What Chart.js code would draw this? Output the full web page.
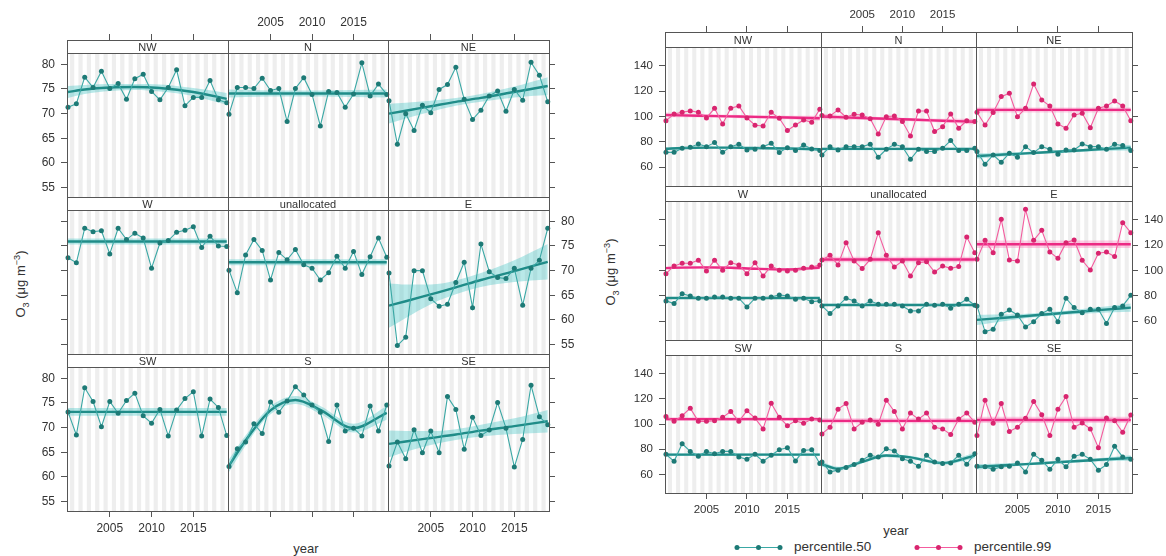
<!DOCTYPE html>
<html>
<head>
<meta charset="utf-8">
<title>O3 trends by wind sector</title>
<script src="https://cdn.jsdelivr.net/npm/chart.js@4.4.1/dist/chart.umd.min.js"></script>
<style>
  body { margin: 0; background: #fff; }
  #page { position: relative; width: 1166px; height: 556px; overflow: hidden;
          font-family: 'Liberation Sans', Arial, Helvetica, sans-serif; color: #333; }
  #page canvas { position: absolute; }
  .lbl { position: absolute; white-space: nowrap; line-height: 16px; }
  .ytitle { font-size: 13px; transform: translate(-50%, -50%) rotate(-90deg); }
  .ytitle sub, .ytitle sup { font-size: 70%; line-height: 0; }
  .xtitle { font-size: 13px; transform: translate(-50%, -50%); }
  .key { position: absolute; }
  .keytext { font-size: 13.5px; }
</style>
</head>
<body>
<div id="page">
  <div class="lbl ytitle" style="left:21px; top:284px">O<sub>3</sub> (μg m<sup>−3</sup>)</div>
  <div class="lbl xtitle" style="left:306px; top:549px">year</div>
  <div class="lbl ytitle" style="left:611px; top:272px">O<sub>3</sub> (μg m<sup>−3</sup>)</div>
  <div class="lbl xtitle" style="left:896px; top:531px">year</div>
  <svg class="key" style="left:733px; top:541px" width="52" height="13">
    <line x1="4" y1="6.5" x2="47" y2="6.5" stroke="#3aa8a5" stroke-width="1.2"/>
    <circle cx="4" cy="6.5" r="2.5" fill="#1d7a76"/><circle cx="25.5" cy="6.5" r="2.5" fill="#1d7a76"/><circle cx="47" cy="6.5" r="2.5" fill="#1d7a76"/>
  </svg>
  <div class="lbl keytext" style="left:794px; top:539px">percentile.50</div>
  <svg class="key" style="left:913px; top:541px" width="52" height="13">
    <line x1="4" y1="6.5" x2="47" y2="6.5" stroke="#f45c9f" stroke-width="1.2"/>
    <circle cx="4" cy="6.5" r="2.5" fill="#d9256f"/><circle cx="25.5" cy="6.5" r="2.5" fill="#d9256f"/><circle cx="47" cy="6.5" r="2.5" fill="#d9256f"/>
  </svg>
  <div class="lbl keytext" style="left:974px; top:539px">percentile.99</div>
</div>
<script>
// years and axis ticks
const YEARS = [2000, 2001, 2002, 2003, 2004, 2005, 2006, 2007, 2008, 2009,
               2010, 2011, 2012, 2013, 2014, 2015, 2016, 2017, 2018, 2019];
const FIT_YEARS = [2000, 2002, 2005, 2008, 2011, 2015, 2019];
const X_TICKS = [2005, 2010, 2015];
const MEAN_TICKS = [55, 60, 65, 70, 75, 80];
const PCT_TICKS = [60, 80, 100, 120, 140];
const SECTORS = ['NW', 'N', 'NE', 'W', 'unallocated', 'E', 'SW', 'S', 'SE'];

// annual mean O3 by sector, with smooth fit and its 95% band (at FIT_YEARS)
const mean_NW = [71.3, 72.0, 77.4, 75.3, 78.6, 75.1, 76.1, 72.9, 77.1, 78.0, 74.5, 72.8, 75.3, 78.9, 71.6, 73.3, 73.3, 76.7, 72.8, 72.2];
const mean_NW_fit = [74.4, 74.9, 75.3, 75.4, 75.2, 74.4, 73.0];
const mean_NW_lo = [73.2, 74.0, 74.6, 74.8, 74.5, 73.6, 71.8];
const mean_NW_hi = [75.6, 75.8, 76.0, 76.0, 75.9, 75.2, 74.2];

const mean_N = [69.9, 75.3, 75.3, 75.1, 77.2, 74.7, 75.1, 68.4, 75.1, 77.3, 73.9, 67.5, 74.5, 74.3, 71.3, 74.0, 80.3, 73.6, 76.0, 73.9];
const mean_N_fit = [74.1, 74.1, 74.1, 74.1, 74.1, 74.1, 74.1];
const mean_N_lo = [73.3, 73.4, 73.5, 73.5, 73.5, 73.4, 73.3];
const mean_N_hi = [74.9, 74.8, 74.7, 74.7, 74.7, 74.8, 74.9];

const mean_NE = [72.6, 63.8, 70.0, 66.6, 71.7, 70.2, 74.9, 75.9, 79.4, 72.9, 68.8, 70.7, 73.6, 74.6, 70.5, 74.9, 72.7, 80.4, 77.8, 72.4];
const mean_NE_fit = [70.0, 70.6, 71.5, 72.4, 73.2, 74.4, 75.6];
const mean_NE_lo = [68.0, 69.0, 70.4, 71.6, 72.4, 73.3, 73.8];
const mean_NE_hi = [72.0, 72.2, 72.6, 73.2, 74.0, 75.5, 77.4];

const mean_W = [72.6, 71.6, 78.6, 77.9, 78.1, 73.4, 78.6, 76.3, 77.6, 76.6, 70.5, 75.6, 76.1, 77.8, 78.2, 78.9, 74.7, 77.0, 75.0, 74.9];
const mean_W_fit = [75.9, 75.9, 75.9, 75.9, 75.9, 75.9, 75.9];
const mean_W_lo = [75.3, 75.3, 75.3, 75.3, 75.3, 75.3, 75.3];
const mean_W_hi = [76.5, 76.5, 76.5, 76.5, 76.5, 76.5, 76.5];

const mean_U = [70.1, 65.5, 73.2, 76.3, 74.1, 68.1, 73.7, 72.2, 74.3, 71.2, 70.5, 68.1, 69.6, 72.9, 70.5, 73.9, 69.2, 72.8, 76.6, 72.7];
const mean_U_fit = [71.7, 71.7, 71.7, 71.7, 71.7, 71.7, 71.7];
const mean_U_lo = [71.1, 71.1, 71.1, 71.1, 71.1, 71.1, 71.1];
const mean_U_hi = [72.3, 72.3, 72.3, 72.3, 72.3, 72.3, 72.3];

const mean_E = [69.5, 54.8, 56.5, 70.0, 70.0, 64.3, 62.8, 63.2, 67.6, 71.7, 62.5, 75.4, 69.8, 68.6, 68.4, 70.5, 63.0, 70.5, 72.1, 78.6];
const mean_E_fit = [62.9, 63.8, 65.2, 66.6, 68.1, 69.9, 71.8];
const mean_E_lo = [58.4, 60.4, 63.2, 65.2, 66.7, 67.7, 68.2];
const mean_E_hi = [67.4, 67.2, 67.2, 68.0, 69.5, 72.1, 75.4];

const mean_SW = [73.2, 68.5, 78.1, 75.3, 70.2, 75.3, 72.9, 75.5, 77.0, 72.4, 70.9, 73.7, 68.3, 73.6, 75.9, 77.3, 68.3, 75.8, 74.1, 68.4];
const mean_SW_fit = [73.2, 73.2, 73.2, 73.2, 73.2, 73.2, 73.2];
const mean_SW_lo = [72.4, 72.4, 72.4, 72.4, 72.4, 72.4, 72.4];
const mean_SW_hi = [74.0, 74.0, 74.0, 74.0, 74.0, 74.0, 74.0];

const mean_S = [62.1, 65.7, 67.1, 70.8, 68.8, 75.2, 73.1, 75.4, 78.3, 76.6, 74.6, 73.1, 67.2, 74.6, 69.3, 69.9, 68.3, 74.4, 69.3, 74.6];
const mean_S_fit = [62.3, 67.4, 73.5, 75.6, 73.6, 69.9, 73.0];
const mean_S_lo = [61.0, 66.4, 72.7, 74.8, 72.8, 69.0, 71.6];
const mean_S_hi = [63.6, 68.4, 74.3, 76.4, 74.4, 70.8, 74.4];

const mean_SE = [62.2, 67.1, 63.7, 69.6, 64.9, 69.3, 64.9, 76.3, 73.7, 65.6, 72.1, 68.4, 69.5, 75.1, 69.9, 62.0, 67.6, 78.6, 72.2, 70.6];
const mean_SE_fit = [66.7, 67.2, 67.9, 68.6, 69.4, 70.3, 71.3];
const mean_SE_lo = [64.0, 65.1, 66.5, 67.5, 68.2, 68.7, 69.0];
const mean_SE_hi = [69.4, 69.3, 69.3, 69.7, 70.6, 71.9, 73.6];

// 50th and 99th percentiles by sector
const p50_NW = [71.8, 71.8, 75.0, 75.8, 78.4, 76.3, 79.5, 71.8, 76.3, 78.2, 73.7, 74.2, 76.3, 78.9, 71.6, 75.5, 73.2, 77.6, 74.5, 73.2];
const p50_NW_fit = [74.6, 75.2, 75.5, 75.5, 75.2, 74.8, 74.2];
const p50_NW_lo = [73.6, 74.3, 74.7, 74.7, 74.4, 73.9, 73.1];
const p50_NW_hi = [75.6, 76.1, 76.3, 76.3, 76.0, 75.7, 75.3];
const p99_NW = [96.8, 102.1, 103.4, 104.5, 103.4, 99.0, 106.6, 94.2, 106.6, 108.4, 99.0, 93.2, 92.6, 103.4, 98.7, 89.0, 93.4, 97.4, 95.5, 105.8];
const p99_NW_fit = [101.3, 101.0, 100.6, 100.2, 99.8, 99.3, 98.7];
const p99_NW_lo = [99.3, 99.5, 99.4, 99.0, 98.6, 97.9, 96.7];
const p99_NW_hi = [103.3, 102.5, 101.8, 101.4, 101.0, 100.7, 100.7];

const p50_N = [69.7, 76.3, 73.7, 76.3, 76.3, 76.3, 78.2, 67.9, 74.2, 78.2, 76.3, 66.3, 74.2, 72.4, 72.4, 75.0, 81.1, 73.2, 73.2, 75.0];
const p50_N_fit = [74.5, 74.5, 74.5, 74.5, 74.5, 74.5, 74.5];
const p50_N_lo = [73.5, 73.5, 73.5, 73.5, 73.5, 73.5, 73.5];
const p50_N_hi = [75.5, 75.5, 75.5, 75.5, 75.5, 75.5, 75.5];
const p99_N = [100.8, 100.5, 105.3, 99.5, 101.8, 101.3, 98.4, 86.3, 100.0, 100.5, 96.1, 84.7, 104.5, 104.5, 88.2, 92.1, 102.1, 90.8, 96.8, 96.1];
const p99_N_fit = [100.0, 99.6, 98.9, 98.3, 97.7, 96.8, 96.0];
const p99_N_lo = [97.8, 97.8, 97.5, 97.0, 96.4, 95.3, 93.8];
const p99_N_hi = [102.2, 101.4, 100.3, 99.6, 99.0, 98.3, 98.2];

const p50_NE = [72.4, 62.4, 69.7, 64.0, 71.1, 67.9, 76.3, 71.6, 76.3, 74.2, 70.3, 73.7, 73.7, 78.4, 76.3, 76.3, 74.2, 78.2, 77.1, 73.2];
const p50_NE_fit = [68.9, 69.6, 70.6, 71.7, 72.7, 74.1, 75.5];
const p50_NE_lo = [66.7, 67.9, 69.4, 70.7, 71.7, 72.9, 73.3];
const p50_NE_hi = [71.1, 71.3, 71.8, 72.7, 73.7, 75.3, 77.7];
const p99_NE = [103.4, 93.4, 103.2, 115.8, 118.4, 100.0, 106.6, 125.8, 113.2, 108.4, 94.2, 90.8, 101.3, 102.6, 91.3, 106.6, 108.4, 112.4, 108.4, 96.8];
const p99_NE_fit = [105.3, 105.3, 105.3, 105.3, 105.3, 105.3, 105.3];
const p99_NE_lo = [103.3, 103.3, 103.3, 103.3, 103.3, 103.3, 103.3];
const p99_NE_hi = [107.3, 107.3, 107.3, 107.3, 107.3, 107.3, 107.3];

const p50_W = [76.1, 74.0, 81.8, 80.0, 78.2, 78.2, 79.2, 79.2, 78.2, 78.2, 71.3, 78.2, 78.2, 79.2, 80.8, 80.0, 77.4, 78.2, 75.5, 76.1];
const p50_W_fit = [78.4, 78.4, 78.4, 78.4, 78.4, 78.4, 78.4];
const p50_W_lo = [77.6, 77.6, 77.6, 77.6, 77.6, 77.6, 77.6];
const p50_W_hi = [79.2, 79.2, 79.2, 79.2, 79.2, 79.2, 79.2];
const p99_W = [97.6, 103.7, 105.8, 105.8, 108.2, 99.7, 108.2, 100.3, 106.3, 104.5, 97.6, 106.3, 95.8, 103.7, 100.3, 99.7, 100.3, 101.8, 102.9, 104.5];
const p99_W_fit = [102.0, 102.4, 102.6, 102.3, 101.5, 100.9, 102.5];
const p99_W_lo = [100.8, 101.4, 101.6, 101.3, 100.5, 99.9, 101.1];
const p99_W_hi = [103.2, 103.4, 103.6, 103.3, 102.5, 101.9, 103.9];

const p50_U = [72.1, 66.1, 72.1, 78.2, 76.1, 72.1, 76.1, 73.4, 73.4, 73.4, 72.1, 68.2, 68.2, 73.4, 72.6, 73.4, 70.3, 73.4, 77.4, 72.6];
const p50_U_fit = [72.9, 72.9, 72.9, 72.9, 72.9, 72.9, 72.9];
const p50_U_lo = [72.0, 72.0, 72.0, 72.0, 72.0, 72.0, 72.0];
const p50_U_hi = [73.8, 73.8, 73.8, 73.8, 73.8, 73.8, 73.8];
const p99_U = [108.4, 112.1, 104.5, 122.1, 107.6, 101.6, 108.9, 130.0, 112.1, 102.9, 107.6, 95.8, 106.3, 107.1, 98.9, 103.7, 101.8, 103.2, 126.6, 114.2];
const p99_U_fit = [108.8, 108.8, 108.8, 108.8, 108.8, 108.8, 108.8];
const p99_U_lo = [106.6, 106.6, 106.6, 106.6, 106.6, 106.6, 106.6];
const p99_U_hi = [111.0, 111.0, 111.0, 111.0, 111.0, 111.0, 111.0];

const p50_E = [72.1, 51.8, 53.7, 65.5, 68.9, 65.0, 55.5, 59.7, 66.1, 69.5, 59.7, 78.2, 70.8, 66.8, 69.5, 69.5, 58.2, 70.8, 72.1, 80.5];
const p50_E_fit = [61.1, 62.1, 63.6, 65.2, 66.7, 68.8, 70.8];
const p50_E_lo = [57.1, 58.9, 61.6, 63.7, 65.1, 66.5, 67.5];
const p50_E_hi = [65.1, 65.3, 65.6, 66.7, 68.3, 71.1, 74.1];
const p99_E = [108.9, 123.9, 114.2, 140.5, 108.4, 107.6, 148.4, 123.9, 131.8, 114.7, 109.7, 122.1, 124.2, 108.2, 100.5, 113.7, 114.7, 111.1, 137.9, 130.0];
const p99_E_fit = [120.8, 120.8, 120.8, 120.8, 120.8, 120.8, 120.8];
const p99_E_lo = [117.8, 117.8, 117.8, 117.8, 117.8, 117.8, 117.8];
const p99_E_hi = [123.8, 123.8, 123.8, 123.8, 123.8, 123.8, 123.8];

const p50_SW = [76.0, 70.4, 84.4, 78.3, 74.4, 78.3, 76.5, 78.3, 78.3, 73.9, 72.0, 76.0, 70.4, 75.2, 79.6, 81.2, 70.7, 79.1, 79.6, 68.6];
const p50_SW_fit = [75.7, 75.7, 75.7, 75.7, 75.7, 75.7, 75.7];
const p50_SW_lo = [74.7, 74.7, 74.7, 74.7, 74.7, 74.7, 74.7];
const p50_SW_hi = [76.7, 76.7, 76.7, 76.7, 76.7, 76.7, 76.7];
const p99_SW = [106.1, 102.2, 106.7, 112.7, 102.2, 102.2, 102.7, 105.4, 110.1, 102.2, 110.6, 104.8, 96.2, 116.6, 105.4, 98.8, 102.7, 100.6, 104.0, 103.3];
const p99_SW_fit = [104.0, 104.0, 104.0, 104.0, 104.0, 104.0, 104.0];
const p99_SW_lo = [102.5, 102.5, 102.5, 102.5, 102.5, 102.5, 102.5];
const p99_SW_hi = [105.5, 105.5, 105.5, 105.5, 105.5, 105.5, 105.5];

const p50_S = [69.9, 62.0, 63.4, 65.5, 67.8, 71.2, 75.2, 73.9, 80.4, 78.6, 72.5, 70.4, 66.5, 75.2, 69.9, 68.6, 69.1, 75.2, 68.1, 76.5];
const p50_S_fit = [68.0, 64.5, 70.0, 75.0, 73.5, 69.0, 75.0];
const p50_S_lo = [66.0, 63.0, 68.7, 73.7, 72.2, 67.7, 72.8];
const p50_S_hi = [70.0, 66.0, 71.3, 76.3, 74.8, 70.3, 77.2];
const p99_S = [92.2, 97.5, 111.9, 116.4, 96.2, 101.4, 103.3, 100.0, 119.0, 110.1, 96.2, 108.8, 104.0, 108.8, 97.5, 96.2, 91.7, 104.0, 108.8, 101.4];
const p99_S_fit = [102.6, 102.6, 102.6, 102.6, 102.6, 102.6, 102.6];
const p99_S_lo = [100.6, 100.6, 100.6, 100.6, 100.6, 100.6, 100.6];
const p99_S_hi = [104.6, 104.6, 104.6, 104.6, 104.6, 104.6, 104.6];

const p50_SE = [66.5, 66.0, 64.1, 66.0, 66.5, 69.1, 62.0, 76.0, 71.2, 64.1, 72.0, 66.0, 74.4, 76.0, 72.0, 63.4, 67.8, 82.3, 73.9, 72.0];
const p50_SE_fit = [66.0, 66.7, 67.8, 68.9, 70.1, 71.6, 73.1];
const p50_SE_lo = [63.8, 64.9, 66.6, 67.9, 69.0, 70.3, 70.9];
const p50_SE_hi = [68.2, 68.5, 69.0, 69.9, 71.2, 72.9, 75.3];
const p99_SE = [90.9, 119.0, 100.6, 116.4, 94.1, 97.5, 104.6, 118.0, 107.5, 90.9, 111.9, 121.9, 97.5, 100.9, 96.2, 81.2, 104.8, 102.7, 93.5, 107.2];
const p99_SE_fit = [103.3, 103.3, 103.3, 103.3, 103.3, 103.3, 103.3];
const p99_SE_lo = [100.8, 100.8, 100.8, 100.8, 100.8, 100.8, 100.8];
const p99_SE_hi = [105.8, 105.8, 105.8, 105.8, 105.8, 105.8, 105.8];

// lookup tables: sector -> [observed, fit, lower, upper]
const MEAN = {
  NW: [mean_NW, mean_NW_fit, mean_NW_lo, mean_NW_hi], N: [mean_N, mean_N_fit, mean_N_lo, mean_N_hi],
  NE: [mean_NE, mean_NE_fit, mean_NE_lo, mean_NE_hi], W: [mean_W, mean_W_fit, mean_W_lo, mean_W_hi],
  unallocated: [mean_U, mean_U_fit, mean_U_lo, mean_U_hi], E: [mean_E, mean_E_fit, mean_E_lo, mean_E_hi],
  SW: [mean_SW, mean_SW_fit, mean_SW_lo, mean_SW_hi], S: [mean_S, mean_S_fit, mean_S_lo, mean_S_hi],
  SE: [mean_SE, mean_SE_fit, mean_SE_lo, mean_SE_hi]
};
const P50 = {
  NW: [p50_NW, p50_NW_fit, p50_NW_lo, p50_NW_hi], N: [p50_N, p50_N_fit, p50_N_lo, p50_N_hi],
  NE: [p50_NE, p50_NE_fit, p50_NE_lo, p50_NE_hi], W: [p50_W, p50_W_fit, p50_W_lo, p50_W_hi],
  unallocated: [p50_U, p50_U_fit, p50_U_lo, p50_U_hi], E: [p50_E, p50_E_fit, p50_E_lo, p50_E_hi],
  SW: [p50_SW, p50_SW_fit, p50_SW_lo, p50_SW_hi], S: [p50_S, p50_S_fit, p50_S_lo, p50_S_hi],
  SE: [p50_SE, p50_SE_fit, p50_SE_lo, p50_SE_hi]
};
const P99 = {
  NW: [p99_NW, p99_NW_fit, p99_NW_lo, p99_NW_hi], N: [p99_N, p99_N_fit, p99_N_lo, p99_N_hi],
  NE: [p99_NE, p99_NE_fit, p99_NE_lo, p99_NE_hi], W: [p99_W, p99_W_fit, p99_W_lo, p99_W_hi],
  unallocated: [p99_U, p99_U_fit, p99_U_lo, p99_U_hi], E: [p99_E, p99_E_fit, p99_E_lo, p99_E_hi],
  SW: [p99_SW, p99_SW_fit, p99_SW_lo, p99_SW_hi], S: [p99_S, p99_S_fit, p99_S_lo, p99_S_hi],
  SE: [p99_SE, p99_SE_fit, p99_SE_lo, p99_SE_hi]
};

// ---- styling / layout ----
const FONT = "'Liberation Sans', Arial, Helvetica, sans-serif";
const INK = '#333';
const FRAME = '#555';
const M = 40;                       // canvas margin around each panel for axes
const X_MIN = 1999.88, X_MAX = 2019.15;

const TEAL = { line: '#3aa8a5', point: '#1d7a76', fit: '#1f8c88', band: 'rgba(72, 196, 196, 0.38)' };
const PINK = { line: '#f45c9f', point: '#d9256f', fit: '#ec2a84', band: 'rgba(255, 112, 180, 0.35)' };

// panel edges (px) for the two trellis plots
const MEAN_PLOT = { cols: [67, 228, 388, 549], rows: [40, 197, 354, 511], strip: 13,
                    yMin: 53.1, yMax: 82.3, yTicks: MEAN_TICKS, font: 12 };
const PCT_PLOT = { cols: [665, 821, 976, 1132], rows: [32, 186, 340, 493], strip: 15,
                   yMin: 45.2, yMax: 155, yTicks: PCT_TICKS, font: 11.5 };

const page = document.getElementById('page');

function pts(xs, ys) {
  return xs.map((x, i) => ({ x: x, y: ys[i] }));
}

// background stripes, strip header and frame for one panel
function panelPlugin(label, stripH) {
  return {
    id: 'panel',
    beforeDatasetsDraw(chart) {
      const ctx = chart.ctx, a = chart.chartArea, xs = chart.scales.x;
      const top = a.top + stripH;
      ctx.save();
      ctx.beginPath();
      ctx.rect(a.left, top, a.right - a.left, a.bottom - top);
      ctx.clip();
      ctx.fillStyle = '#eeeeee';
      YEARS.forEach(yr => {
        const l = xs.getPixelForValue(yr + 0.25);
        const r = xs.getPixelForValue(yr + 0.75);
        ctx.fillRect(l, top, r - l, a.bottom - top);
      });
      ctx.restore();
    },
    afterDraw(chart) {
      const ctx = chart.ctx, a = chart.chartArea;
      ctx.save();
      ctx.fillStyle = '#fff';
      ctx.fillRect(a.left, a.top, a.right - a.left, stripH);
      ctx.strokeStyle = FRAME;
      ctx.lineWidth = 1;
      ctx.strokeRect(a.left + 0.5, a.top + 0.5, a.right - a.left, a.bottom - a.top);
      ctx.beginPath();
      ctx.moveTo(a.left, a.top + stripH + 0.5);
      ctx.lineTo(a.right, a.top + stripH + 0.5);
      ctx.stroke();
      ctx.fillStyle = INK;
      ctx.font = '11px ' + FONT;
      ctx.textAlign = 'center';
      ctx.textBaseline = 'middle';
      ctx.fillText(label, (a.left + a.right) / 2, a.top + stripH / 2 + 1);
      ctx.restore();
    }
  };
}

function xAxis(plot, pos, marks, labels) {
  return {
    type: 'linear', axis: 'x', position: pos, min: X_MIN, max: X_MAX,
    afterBuildTicks: s => { s.ticks = X_TICKS.map(v => ({ value: v })); },
    afterFit: s => { s.height = M; },
    border: { display: false },
    grid: { display: marks, drawOnChartArea: false, tickLength: 6, color: FRAME },
    ticks: { display: labels, autoSkip: false, maxRotation: 0, padding: 4, color: INK,
             font: { family: FONT, size: plot.font }, callback: v => String(v) }
  };
}

function yAxis(plot, pos, top, marks, labels) {
  return {
    type: 'linear', axis: 'y', position: pos, min: plot.yMin, max: top,
    afterBuildTicks: s => { s.ticks = plot.yTicks.map(v => ({ value: v })); },
    afterFit: s => { s.width = M; },
    border: { display: false },
    grid: { display: marks, drawOnChartArea: false, tickLength: 6, color: FRAME },
    ticks: { display: labels, padding: 6, color: INK,
             font: { family: FONT, size: plot.font }, callback: v => String(v) }
  };
}

function groupDatasets(group, col) {
  const [obs, fit, lo, hi] = group;
  return [
    { data: pts(FIT_YEARS, lo), borderWidth: 0, pointRadius: 0, fill: false,
      cubicInterpolationMode: 'monotone', order: 3 },
    { data: pts(FIT_YEARS, hi), borderWidth: 0, pointRadius: 0, fill: '-1',
      backgroundColor: col.band, cubicInterpolationMode: 'monotone', order: 2 },
    { data: pts(FIT_YEARS, fit), borderColor: col.fit, borderWidth: 2.4, pointRadius: 0,
      cubicInterpolationMode: 'monotone', order: 1 },
    { data: pts(YEARS, obs), borderColor: col.line, borderWidth: 1.1, pointRadius: 2.5,
      pointBackgroundColor: col.point, pointBorderWidth: 0, clip: 3, order: 0 }
  ];
}

function addPanel(plot, r, c, label, groups) {
  const x0 = plot.cols[c], x1 = plot.cols[c + 1];
  const y0 = plot.rows[r], y1 = plot.rows[r + 1];
  const w = x1 - x0, h = y1 - y0;
  // stretch the y range so the strip header sits above the data region
  const plotH = h - plot.strip;
  const yTop = plot.yMax + plot.strip * (plot.yMax - plot.yMin) / plotH;

  const canvas = document.createElement('canvas');
  canvas.width = w + 2 * M;
  canvas.height = h + 2 * M;
  canvas.style.left = (x0 - M) + 'px';
  canvas.style.top = (y0 - M) + 'px';
  page.appendChild(canvas);

  let datasets = [];
  groups.forEach(g => { datasets = datasets.concat(groupDatasets(g[0], g[1])); });

  new Chart(canvas, {
    type: 'line',
    data: { datasets: datasets },
    options: {
      responsive: false,
      animation: false,
      events: [],
      layout: { padding: 0 },
      plugins: { legend: { display: false }, tooltip: { enabled: false } },
      scales: {
        x: xAxis(plot, 'bottom', r === 2, r === 2 && c !== 1),
        xTop: xAxis(plot, 'top', r === 0, r === 0 && c === 1),
        y: yAxis(plot, 'left', yTop, c === 0, c === 0 && r !== 1),
        yRight: yAxis(plot, 'right', yTop, c === 2, c === 2 && r === 1)
      }
    },
    plugins: [panelPlugin(label, plot.strip)]
  });
}

SECTORS.forEach((s, i) => {
  const r = Math.floor(i / 3), c = i % 3;
  addPanel(MEAN_PLOT, r, c, s, [[MEAN[s], TEAL]]);
  addPanel(PCT_PLOT, r, c, s, [[P99[s], PINK], [P50[s], TEAL]]);
});
</script>
</body>
</html>
